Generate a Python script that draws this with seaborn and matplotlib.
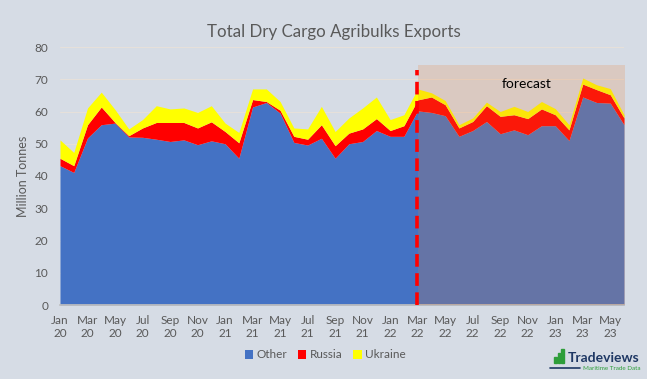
import matplotlib
matplotlib.use("Agg")
import matplotlib.pyplot as plt
from matplotlib.patches import Patch, Rectangle
from matplotlib.lines import Line2D
import numpy as np
import pandas as pd
import seaborn as sns

# monthly data, Jan 2020 - Jun 2023 (million tonnes)
months = pd.date_range("2020-01-01", periods=42, freq="MS")
other = [43.2, 41.1, 51.8, 55.9, 56.4, 52.1, 52.0, 51.4, 50.7, 51.2, 49.7, 50.9,
         50.0, 45.5, 61.4, 62.8, 59.5, 50.4, 49.6, 51.7, 45.5, 50.0, 50.7, 54.1,
         52.3, 52.3, 60.2, 59.7, 58.7, 52.3, 54.1, 56.9, 53.1, 54.3, 52.8, 55.6,
         55.6, 51.0, 64.5, 62.8, 62.6, 55.9]
russia = [2.3, 2.1, 4.1, 5.5, 0.2, 0.4, 2.9, 5.2, 5.9, 5.4, 5.2, 5.9,
          3.8, 4.8, 2.3, 0.3, 0.9, 1.9, 1.8, 4.2, 3.9, 3.3, 3.9, 3.7,
          1.8, 3.3, 3.4, 4.8, 3.4, 2.6, 2.8, 4.9, 5.4, 4.7, 5.0, 5.2,
          3.4, 3.3, 4.0, 4.0, 2.6, 2.1]
ukraine = [5.7, 4.1, 5.2, 4.6, 4.0, 2.1, 2.6, 5.2, 4.2, 4.5, 4.8, 5.0,
           2.6, 3.2, 3.3, 3.9, 2.7, 2.6, 3.2, 5.7, 4.4, 4.7, 6.5, 6.7,
           3.4, 3.4, 3.4, 1.3, 1.3, 1.0, 1.1, 1.1, 1.5, 2.6, 2.2, 2.3,
           1.9, 1.6, 1.9, 1.5, 1.9, 1.0]
series_names = ["Other", "Russia", "Ukraine"]
forecast_start = "2022-03-01"

bg = "#D6DCE5"
colors = ["#4472C4", "#FF0000", "#FFFF00"]
txt = "#595959"

sns.set_theme(style="white")
plt.rcParams["font.family"] = ["Lato", "DejaVu Sans"]

fig = plt.figure(figsize=(6.47, 3.79), dpi=100, facecolor=bg)
ax = fig.add_axes([60 / 647, 74 / 379, 564 / 647, 258 / 379])
ax.set_facecolor(bg)

x = np.arange(len(months))
ax.stackplot(x, other, russia, ukraine, colors=colors, linewidth=0, zorder=2)

# forecast shading + divider
fc = list(months).index(pd.Timestamp(forecast_start))
ax.add_patch(Rectangle((fc, 0), x[-1] + 0.1 - fc, 74.5, facecolor="#ED7D31",
                       alpha=0.2, edgecolor="none", zorder=3, clip_on=False))
ax.plot([fc - 0.07, fc - 0.07], [0, 73], color="#FF0000", lw=2.6,
        dashes=(3.5, 1.8), zorder=4)
ax.text(fc + 7.9, 68.6, "forecast", fontsize=10, color="black", ha="center",
        va="center", zorder=5)

# axes
ax.set_xlim(0, x[-1])
ax.set_ylim(0, 80)
ax.set_yticks(range(0, 81, 10))
ax.yaxis.grid(True, color="#E6E0DA", lw=0.8, zorder=0)
ax.set_axisbelow(True)
tick_pos = x[::2]
ax.set_xticks(tick_pos)
ax.set_xticklabels([m.strftime("%b\n%y") for m in months[::2]])
ax.tick_params(axis="x", length=4, color="#BFBFBF", labelsize=8.5,
               labelcolor=txt, pad=3)
ax.tick_params(axis="y", length=0, labelsize=8.5, labelcolor=txt, pad=8.5)
for s in ["top", "right", "left"]:
    ax.spines[s].set_visible(False)
ax.spines["bottom"].set_color("#BFBFBF")
ax.set_ylabel("Million Tonnes", fontsize=9, color=txt, labelpad=4)

fig.text(0.516, 1 - 32 / 379, "Total Dry Cargo Agribulks Exports", fontsize=12.2,
         color=txt, ha="center", va="center")

handles = [Patch(facecolor=c, edgecolor="none") for c in colors]
fig.legend(handles, series_names, loc="center", bbox_to_anchor=(0.503, 1 - 355 / 379),
           ncol=3, frameon=False, fontsize=8.5, handlelength=0.7,
           handleheight=0.7, handletextpad=0.3, columnspacing=0.9,
           labelcolor=txt)

# Tradeviews logo
W, H = 647, 379
for bx, btop in [(554, 357), (557.7, 353), (561.4, 349)]:
    fig.add_artist(Rectangle((bx / W, 1 - 363 / H), 2.6 / W, (363 - btop) / H,
                             transform=fig.transFigure, color="#2E9E3A"))
fig.add_artist(Line2D([550 / W, 580 / W], [1 - 368 / H] * 2,
                      transform=fig.transFigure, color="#1F3864", lw=1.2))
fig.text(568 / W, 1 - 358 / H, "Tradeviews", fontsize=10, fontweight="bold",
         color="#1F3864", ha="left", va="center")
fig.text(583 / W, 1 - 369 / H, "Maritime Trade Data", fontsize=4.5,
         color="#2E9E3A", ha="left", va="center")

fig.savefig("out.png", dpi=100, facecolor=bg)
